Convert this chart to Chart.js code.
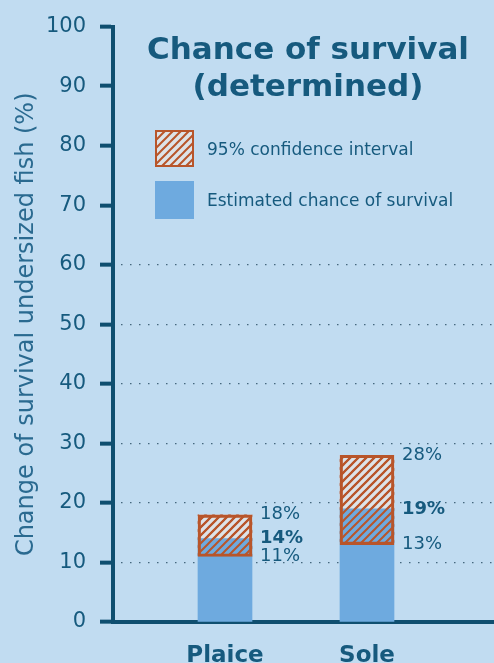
<!DOCTYPE html>
<html>
<head>
<meta charset="utf-8">
<script src="https://cdn.jsdelivr.net/npm/chart.js@4.4.1/dist/chart.umd.min.js"></script>
<style>
  html, body { margin: 0; padding: 0; background: #c1dcf1; }
  #wrap { width: 494px; height: 663px; }
</style>
</head>
<body>
<div id="wrap"><canvas id="survivalChart"></canvas></div>
<script>
const categories = ['Plaice', 'Sole'];
const xPos = [1, 2];
const estimate = [14, 19];
const ciLow = [11, 13];
const ciHigh = [18, 28];
const yTicks = [0, 10, 20, 30, 40, 50, 60, 70, 80, 90, 100];

const titleLines = ['Chance of survival', '(determined)'];
const legendLabels = ['95% confidence interval', 'Estimated chance of survival'];
const yTitle = 'Change of survival undersized fish (%)';

const FONT = '"DejaVu Sans", Verdana, sans-serif';
const TEXT = '#165a7e';
const AXIS = '#0f4f70';
const BLUE = '#6eaadf';
const ORANGE = '#b8552a';
const PALE = '#dde3e8';

function makeHatch(bg) {
    const s = 8;
    const c = document.createElement('canvas');
    c.width = s;
    c.height = s;
    const g = c.getContext('2d');
    if (bg) {
        g.fillStyle = bg;
        g.fillRect(0, 0, s, s);
    }
    g.strokeStyle = ORANGE;
    g.lineWidth = 2;
    g.beginPath();
    g.moveTo(0, s); g.lineTo(s, 0);
    g.moveTo(-1, 1); g.lineTo(1, -1);
    g.moveTo(s - 1, s + 1); g.lineTo(s + 1, s - 1);
    g.stroke();
    return g.createPattern(c, 'repeat');
}

const hatchPale = makeHatch(PALE);
const hatchClear = makeHatch(null);

// title, legend and the value labels next to the bars
const overlay = {
    id: 'overlay',
    afterDatasetsDraw(chart) {
        const ctx = chart.ctx;
        ctx.save();

        ctx.fillStyle = TEXT;
        ctx.textAlign = 'center';
        ctx.textBaseline = 'middle';
        ctx.font = 'bold 31px ' + FONT;
        titleLines.forEach((t, i) => ctx.fillText(t, 308, 51 + i * 37));

        // legend
        ctx.fillStyle = hatchPale;
        ctx.fillRect(156, 131, 37, 35);
        ctx.strokeStyle = ORANGE;
        ctx.lineWidth = 2;
        ctx.strokeRect(156, 131, 37, 35);
        ctx.fillStyle = BLUE;
        ctx.fillRect(155, 181, 39, 38);
        ctx.fillStyle = TEXT;
        ctx.textAlign = 'left';
        ctx.font = '17px ' + FONT;
        ctx.fillText(legendLabels[0], 207, 151);
        ctx.fillText(legendLabels[1], 207, 202);

        // value labels
        const y = chart.scales.y;
        const meta = chart.getDatasetMeta(2);
        meta.data.forEach((bar, i) => {
            const x = bar.x + bar.width / 2 + 8;
            ctx.font = '18px ' + FONT;
            ctx.fillText(ciHigh[i] + '%', x, y.getPixelForValue(ciHigh[i]));
            ctx.fillText(ciLow[i] + '%', x, y.getPixelForValue(ciLow[i]));
            ctx.font = 'bold 18px ' + FONT;
            ctx.fillText(estimate[i] + '%', x, y.getPixelForValue(estimate[i]));
        });
        ctx.restore();
    }
};

const ctx = document.getElementById('survivalChart').getContext('2d');

const survivalChart = new Chart(ctx, {
    type: 'bar',
    data: {
        datasets: [{
            // hatch lines + border on top
            data: xPos.map((x, i) => ({ x: x, y: [ciLow[i], ciHigh[i]] })),
            backgroundColor: hatchClear,
            borderColor: ORANGE,
            borderWidth: 2.5,
            borderSkipped: false,
            grouped: false,
            barThickness: 54
        }, {
            data: xPos.map((x, i) => ({ x: x, y: estimate[i] })),
            backgroundColor: BLUE,
            borderWidth: 0,
            grouped: false,
            barThickness: 54
        }, {
            // pale fill of the interval, below the blue bar
            data: xPos.map((x, i) => ({ x: x, y: [ciLow[i], ciHigh[i]] })),
            backgroundColor: hatchPale,
            borderWidth: 0,
            grouped: false,
            barThickness: 54
        }]
    },
    options: {
        responsive: true,
        maintainAspectRatio: false,
        animation: false,
        layout: { padding: { top: 25, right: 0, left: 0, bottom: 0 } },
        plugins: {
            legend: { display: false },
            tooltip: { enabled: false }
        },
        scales: {
            x: {
                type: 'linear',
                offset: false,
                min: 1 - 112 / 142,
                max: 2 + 127 / 142,
                afterBuildTicks: (scale) => {
                    scale.ticks = xPos.map(v => ({ value: v }));
                },
                afterFit: (scale) => { scale.height = 41; },
                grid: { display: false, drawTicks: false },
                border: { display: true, color: AXIS, width: 4 },
                ticks: {
                    padding: 20,
                    color: TEXT,
                    font: { family: FONT, size: 23, weight: 'bold' },
                    callback: (v) => categories[xPos.indexOf(v)] || ''
                }
            },
            y: {
                min: 0,
                max: 100,
                afterBuildTicks: (scale) => {
                    scale.ticks = yTicks.map(v => ({ value: v }));
                },
                afterFit: (scale) => { scale.width = 113; },
                border: { display: true, color: AXIS, width: 4, dash: [1.5, 7.5], dashOffset: -6 },
                grid: {
                    color: (c) => (c.tick && c.tick.value >= 10 && c.tick.value <= 60) ? '#45677e' : 'rgba(0,0,0,0)',
                    lineWidth: 1.3,
                    tickColor: AXIS,
                    tickWidth: 4,
                    tickLength: 13,
                    tickBorderDash: []
                },
                ticks: {
                    padding: 14,
                    color: TEXT,
                    font: { family: FONT, size: 21 }
                },
                title: {
                    display: true,
                    text: yTitle,
                    color: '#2a6a90',
                    padding: { top: 12 },
                    font: { family: FONT, size: 24 }
                }
            }
        }
    },
    plugins: [overlay]
});
</script>
</body>
</html>
